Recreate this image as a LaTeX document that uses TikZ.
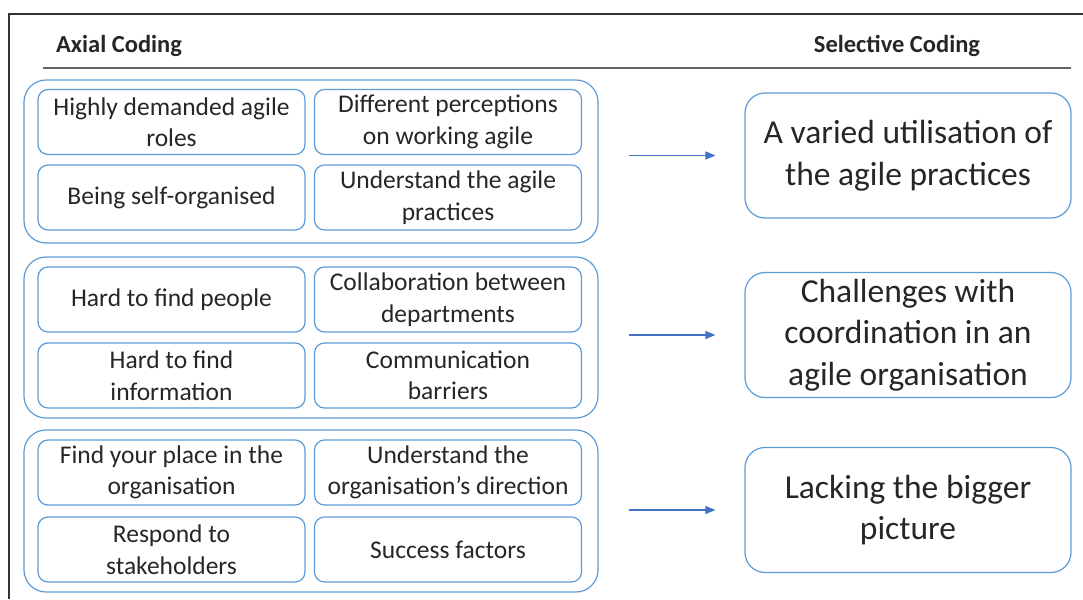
\documentclass[tikz,border=0pt]{standalone}
\usepackage{fontspec}
\setmainfont{Carlito}
\usetikzlibrary{arrows.meta,positioning}
\definecolor{boxblue}{HTML}{5B9BD5}
\definecolor{arrowblue}{HTML}{4472C4}
\definecolor{txtgray}{HTML}{262626}

\begin{document}
\begin{tikzpicture}
[x=1pt, y=-1pt, line width=1.2pt, text=txtgray,
axial/.style={rectangle, draw=boxblue, rounded corners=10pt, inner sep=0pt, minimum width=267pt, minimum height=65pt, align=center, font=\fontsize{25.5}{31.5}\selectfont},
group/.style={rectangle, draw=boxblue, rounded corners=22pt, inner sep=0pt, minimum width=574pt},
selective/.style={rectangle, draw=boxblue, rounded corners=20pt, inner sep=0pt, minimum width=326pt, minimum height=125pt, align=center, font=\fontsize{33.5}{41.5}\selectfont},
head/.style={font=\bfseries\fontsize{24.5}{28}\selectfont},
link/.style={draw=arrowblue, -{Triangle[length=10pt,width=8pt]}, shorten <=30pt, shorten >=29pt}]

\useasboundingbox (0,0) rectangle (1083,599);

% frame and header rule
\draw[black!80] (9,599) -- (9,14) -- (1083,14);
\node[head] (axialhead) at (119,45.5) {Axial Coding};
\node[head] (selhead) at (897,45.5) {Selective Coding};
\draw[black!60, line width=1.5pt] (43,68) -- (1071,68);

% groups of axial codes
\node[group, minimum height=163pt] (grp1) at (311,161.5) {};
\node[group, minimum height=161pt] (grp2) at (311,337.5) {};
\node[group, minimum height=162pt] (grp3) at (311,511) {};

\node[axial] (ax11) at (171.5,122) {Highly demanded agile\\roles};
\node[axial] (ax12) at (448,122) {Different perceptions\\on working agile};
\node[axial] (ax13) at (171.5,197.5) {Being self-organised};
\node[axial] (ax14) at (448,197.5) {Understand the agile\\practices};

\node[axial] (ax21) at (171.5,299.5) {Hard to find people};
\node[axial] (ax22) at (448,299.5) {Collaboration between\\departments};
\node[axial] (ax23) at (171.5,375.5) {Hard to find\\information};
\node[axial] (ax24) at (448,375.5) {Communication\\barriers};

\node[axial] (ax31) at (171.5,472.5) {Find your place in the\\organisation};
\node[axial] (ax32) at (448,472.5) {Understand the\\organisation’s direction};
\node[axial] (ax33) at (171.5,549.5) {Respond to\\stakeholders};
\node[axial] (ax34) at (448,549.5) {Success factors};

% selective codes
\node[selective] (sel1) at (908,155.5) {A varied utilisation of\\the agile practices};
\node[selective] (sel2) at (908,335) {Challenges with\\coordination in an\\agile organisation};
\node[selective] (sel3) at (908,510) {Lacking the bigger\\picture};

\draw[link] (grp1.east |- sel1.west) -- (sel1.west);
\draw[link] (grp2.east |- sel2.west) -- (sel2.west);
\draw[link] (grp3.east |- sel3.west) -- (sel3.west);
\end{tikzpicture}
\end{document}
